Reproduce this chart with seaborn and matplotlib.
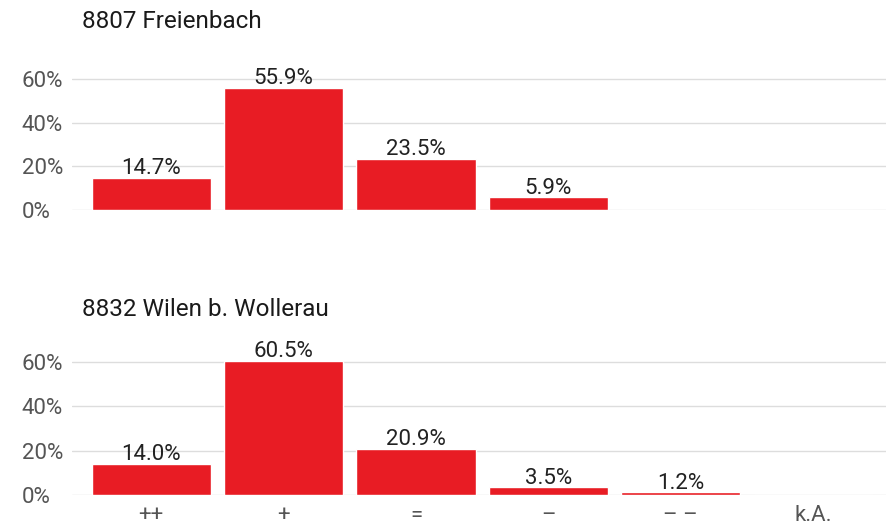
import matplotlib
matplotlib.use("Agg")
import matplotlib.pyplot as plt
import seaborn as sns
import pandas as pd

categories = ["++", "+", "=", "–", "– –", "k.A."]
freienbach = [14.7, 55.9, 23.5, 5.9, 0.0, 0.0]
wilen = [14.0, 60.5, 20.9, 3.5, 1.2, 0.0]
titles = ["8807 Freienbach", "8832 Wilen b. Wollerau"]
yticks = [0, 20, 40, 60]

sns.set_style("white")
plt.rcParams['font.family'] = ['Roboto', 'DejaVu Sans']

red = "#e81c24"
fig = plt.figure(figsize=(8.86, 5.31), dpi=100)
ax_top = fig.add_axes([0.081, 0.6045, 0.919, 0.255])
ax_bot = fig.add_axes([0.081, 0.0678, 0.919, 0.259])

for ax, vals in zip([ax_top, ax_bot], [freienbach, wilen]):
    df = pd.DataFrame({"cat": categories, "val": vals})
    sns.barplot(data=df, x="cat", y="val", color=red, saturation=1,
                width=0.9, ax=ax)
    ax.set_xlim(-0.6, 5.55)
    ax.set_ylim(0, 62)
    ax.set_yticks(yticks)
    ax.set_yticklabels([f"{t}%" for t in yticks], ha="left")
    ax.tick_params(axis="y", length=0, pad=36, labelsize=16, labelcolor="#555555")
    ax.tick_params(axis="x", length=0, pad=7, labelsize=16, labelcolor="#555555")
    ax.grid(axis="y", color="#dddddd", linewidth=1)
    ax.set_axisbelow(True)
    for s in ax.spines.values():
        s.set_visible(False)
    ax.set_xlabel("")
    ax.set_ylabel("")
    labels = [f"{v:.1f}%" if v > 0 else "" for v in vals]
    ax.bar_label(ax.containers[0], labels=labels, padding=-1, fontsize=16,
                 color="#222222")

fig.text(0.0925, 1 - 22 / 531, titles[0], fontsize=17.5, color="#1a1a1a", va="center")
fig.text(0.0925, 1 - 310 / 531, titles[1], fontsize=17.5, color="#1a1a1a", va="center")
ax_top.set_xticklabels([])

fig.savefig("out.png", dpi=100)
